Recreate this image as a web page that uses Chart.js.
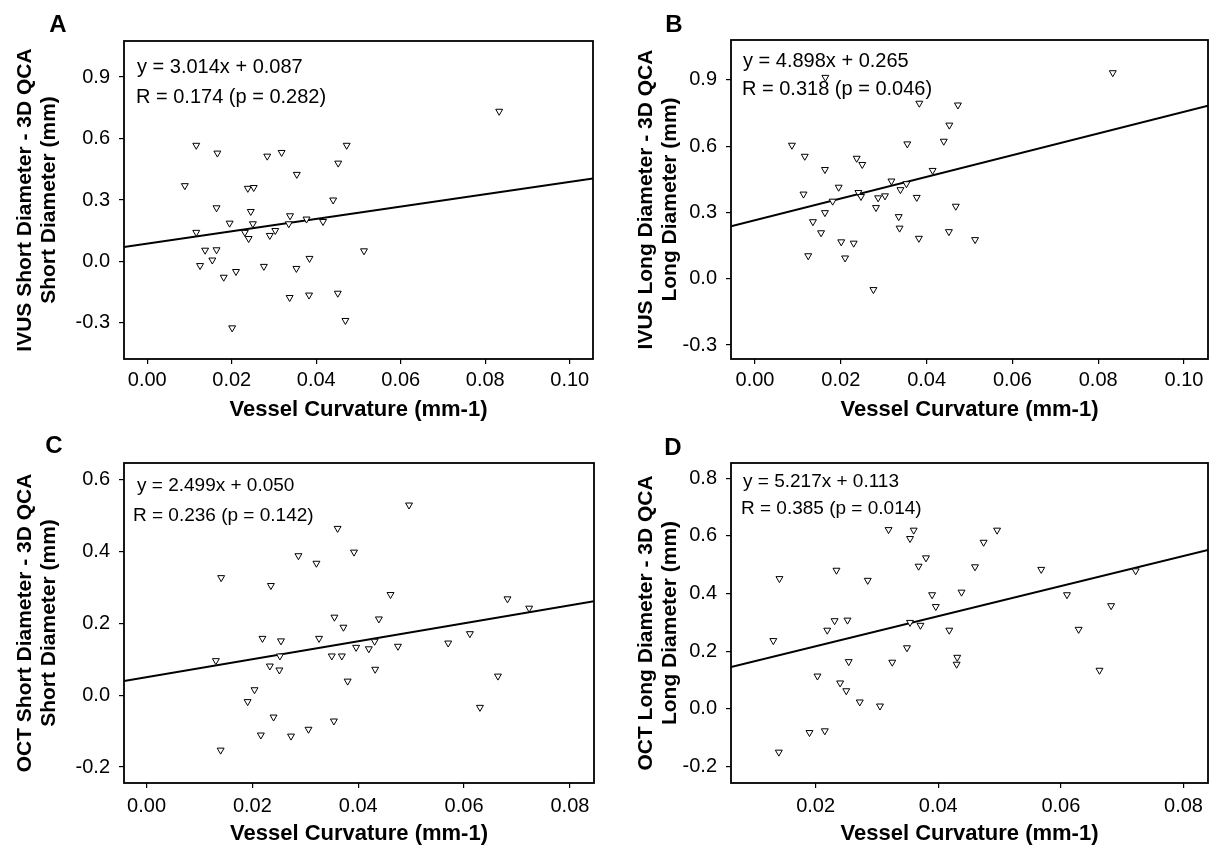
<!DOCTYPE html>
<html>
<head>
<meta charset="utf-8">
<script src="https://cdn.jsdelivr.net/npm/chart.js@4.4.1/dist/chart.umd.min.js"></script>
<style>
  html, body { margin: 0; padding: 0; background: #fff; }
  #wrap { position: relative; width: 1213px; height: 849px; overflow: hidden; }
  canvas { position: absolute; }
</style>
</head>
<body>
<div id="wrap">
  <canvas id="chartA" width="606" height="424" style="left:0px;top:0px"></canvas>
  <canvas id="chartB" width="607" height="424" style="left:606px;top:0px"></canvas>
  <canvas id="chartC" width="606" height="425" style="left:0px;top:424px"></canvas>
  <canvas id="chartD" width="607" height="425" style="left:606px;top:424px"></canvas>
</div>
<script>
// Panel A: IVUS short diameter difference vs vessel curvature
const xA = [0.0089, 0.0116, 0.0116, 0.0125, 0.0137, 0.0154, 0.0164, 0.0166, 0.0164, 0.0181, 0.0195, 0.0201, 0.0210, 0.0231, 0.0238, 0.0252, 0.0245, 0.0240, 0.0250, 0.0276, 0.0284, 0.0290, 0.0303, 0.0318, 0.0335, 0.0338, 0.0337, 0.0354, 0.0353, 0.0377, 0.0384, 0.0383, 0.0416, 0.0440, 0.0452, 0.0451, 0.0472, 0.0469, 0.0513, 0.0833];
const yA = [0.370, 0.567, 0.142, -0.020, 0.055, 0.007, 0.057, 0.529, 0.262, -0.077, 0.187, -0.324, -0.049, 0.142, 0.357, 0.361, 0.244, 0.112, 0.184, -0.024, 0.514, 0.127, 0.151, 0.532, 0.184, 0.223, -0.176, 0.425, -0.034, 0.207, 0.015, -0.164, 0.195, 0.300, 0.480, -0.155, 0.567, -0.288, 0.052, 0.733];
const fitA = { slope: 3.014, intercept: 0.087 };

// Panel B: IVUS long diameter difference
const xB = [0.0086, 0.0116, 0.0113, 0.0124, 0.0135, 0.0154, 0.0164, 0.0163, 0.0163, 0.0181, 0.0195, 0.0201, 0.0210, 0.0230, 0.0237, 0.0241, 0.0247, 0.0250, 0.0276, 0.0282, 0.0287, 0.0303, 0.0318, 0.0335, 0.0337, 0.0339, 0.0353, 0.0355, 0.0377, 0.0383, 0.0382, 0.0414, 0.0440, 0.0453, 0.0452, 0.0468, 0.0473, 0.0513, 0.0834];
const yB = [0.604, 0.554, 0.383, 0.104, 0.258, 0.208, 0.911, 0.494, 0.299, 0.351, 0.414, 0.167, 0.094, 0.161, 0.545, 0.390, 0.372, 0.517, -0.049, 0.322, 0.366, 0.375, 0.442, 0.281, 0.229, 0.403, 0.430, 0.610, 0.368, 0.794, 0.183, 0.490, 0.622, 0.695, 0.213, 0.328, 0.786, 0.177, 0.932];
const fitB = { slope: 4.898, intercept: 0.265 };

// Panel C: OCT short diameter difference
const xC = [0.0131, 0.0141, 0.0140, 0.0191, 0.0204, 0.0219, 0.0216, 0.0233, 0.0235, 0.0240, 0.0251, 0.0252, 0.0254, 0.0273, 0.0287, 0.0306, 0.0321, 0.0326, 0.0350, 0.0355, 0.0354, 0.0361, 0.0369, 0.0372, 0.0380, 0.0392, 0.0396, 0.0420, 0.0431, 0.0432, 0.0439, 0.0461, 0.0475, 0.0496, 0.0570, 0.0611, 0.0630, 0.0664, 0.0682, 0.0723];
const yC = [0.096, 0.327, -0.153, -0.018, 0.015, 0.158, -0.111, 0.081, 0.305, -0.061, 0.070, 0.109, 0.151, -0.114, 0.388, -0.095, 0.367, 0.158, 0.109, 0.217, -0.072, 0.464, 0.109, 0.189, 0.039, 0.398, 0.133, 0.129, 0.150, 0.072, 0.212, 0.280, 0.136, 0.529, 0.145, 0.171, -0.034, 0.053, 0.268, 0.242];
const fitC = { slope: 2.499, intercept: 0.050 };

// Panel D: OCT long diameter difference
const xD = [0.0131, 0.0141, 0.0140, 0.0190, 0.0203, 0.0215, 0.0219, 0.0231, 0.0234, 0.0240, 0.0250, 0.0252, 0.0254, 0.0272, 0.0285, 0.0305, 0.0319, 0.0325, 0.0349, 0.0354, 0.0354, 0.0360, 0.0368, 0.0371, 0.0380, 0.0390, 0.0396, 0.0418, 0.0431, 0.0430, 0.0438, 0.0460, 0.0474, 0.0496, 0.0568, 0.0610, 0.0629, 0.0663, 0.0682, 0.0722];
const yD = [0.237, 0.452, -0.150, -0.082, 0.114, -0.076, 0.273, 0.306, 0.481, 0.090, 0.063, 0.308, 0.164, 0.024, 0.446, 0.010, 0.622, 0.162, 0.212, 0.300, 0.591, 0.620, 0.495, 0.290, 0.524, 0.396, 0.355, 0.273, 0.179, 0.155, 0.405, 0.493, 0.578, 0.620, 0.484, 0.396, 0.276, 0.134, 0.358, 0.479];
const fitD = { slope: 5.217, intercept: 0.113 };

// tick values
const xTicksAB = [0, 0.02, 0.04, 0.06, 0.08, 0.10];
const yTicksAB = [-0.3, 0, 0.3, 0.6, 0.9];
const xTicksC = [0, 0.02, 0.04, 0.06, 0.08];
const yTicksC = [-0.2, 0, 0.2, 0.4, 0.6];
const xTicksD = [0.02, 0.04, 0.06, 0.08];
const yTicksD = [-0.2, 0, 0.2, 0.4, 0.6, 0.8];

const xTitle = 'Vessel Curvature (mm-1)';
const FONT = '"Liberation Sans", Arial, sans-serif';

// draws the frame, panel letter and regression text
const panelDeco = {
    id: 'panelDeco',
    afterDraw(chart, args, opts) {
        const { ctx, chartArea: a } = chart;
        ctx.save();
        ctx.strokeStyle = '#000';
        ctx.lineWidth = 1.8;
        ctx.strokeRect(a.left, a.top, a.right - a.left, a.bottom - a.top);
        ctx.fillStyle = '#000';
        ctx.textBaseline = 'middle';
        ctx.textAlign = 'center';
        ctx.font = 'bold 24px ' + FONT;
        ctx.fillText(opts.letter, opts.letterX, opts.letterY);
        ctx.textAlign = 'left';
        ctx.font = opts.noteSize + 'px ' + FONT;
        opts.notes.forEach(n => ctx.fillText(n.text, a.left + n.dx, a.top + n.dy));
        ctx.restore();
    }
};

function makePanel(id, p) {
    const canvas = document.getElementById(id);
    const H = canvas.height;
    const points = p.xs.map((x, i) => ({ x: x, y: p.ys[i] }));
    const fitLine = [p.xRange[0], p.xRange[1]].map(x => ({ x: x, y: p.fit.slope * x + p.fit.intercept }));

    new Chart(canvas, {
        type: 'scatter',
        data: {
            datasets: [
                {
                    data: points,
                    pointStyle: 'triangle',
                    rotation: 180,
                    pointRadius: 4,
                    pointBorderWidth: 1,
                    borderColor: '#000',
                    backgroundColor: '#fff',
                    order: 1
                },
                {
                    data: fitLine,
                    showLine: true,
                    borderColor: '#000',
                    borderWidth: 2,
                    pointRadius: 0,
                    order: 2
                }
            ]
        },
        options: {
            responsive: false,
            animation: false,
            layout: { padding: { left: 0, top: p.padTop, right: p.padRight, bottom: 0 } },
            plugins: {
                legend: { display: false },
                tooltip: { enabled: false },
                panelDeco: { letter: p.letter, letterX: p.letterX, letterY: p.letterY, noteSize: p.noteSize, notes: p.notes }
            },
            scales: {
                x: {
                    type: 'linear',
                    min: p.xRange[0],
                    max: p.xRange[1],
                    afterBuildTicks: s => { s.ticks = p.xTicks.map(v => ({ value: v })); },
                    afterFit: s => { s.height = p.xAxisH; },
                    border: { display: false },
                    grid: { drawOnChartArea: false, drawTicks: true, tickLength: 5, color: '#000', lineWidth: 1.2 },
                    ticks: {
                        color: '#000', autoSkip: false, maxRotation: 0, padding: p.xTickPad,
                        font: { family: FONT, size: 20 },
                        callback: v => Number(v).toFixed(2)
                    },
                    title: {
                        display: true, text: xTitle, color: '#000',
                        font: { family: FONT, size: 22, weight: 'bold' },
                        padding: { top: 0, bottom: p.xTitlePad }
                    }
                },
                y: {
                    type: 'linear',
                    min: p.yRange[0],
                    max: p.yRange[1],
                    afterBuildTicks: s => { s.ticks = p.yTicks.map(v => ({ value: v })); },
                    afterFit: s => { s.width = p.yAxisW; },
                    border: { display: false },
                    grid: { drawOnChartArea: false, drawTicks: true, tickLength: 5, color: '#000', lineWidth: 1.2 },
                    ticks: {
                        color: '#000', autoSkip: false, padding: 9,
                        font: { family: FONT, size: 20 },
                        callback: v => Number(v).toFixed(1)
                    },
                    title: {
                        display: true, text: p.yTitle, color: '#000',
                        font: { family: FONT, size: 21, weight: 'bold', lineHeight: 1.15 },
                        padding: { top: p.yTitlePad, bottom: 0 }
                    }
                }
            }
        },
        plugins: [panelDeco]
    });
}

makePanel('chartA', {
    xs: xA, ys: yA, fit: fitA,
    xRange: [-0.0055, 0.1055], yRange: [-0.476, 1.076],
    xTicks: xTicksAB, yTicks: yTicksAB,
    yTitle: ['IVUS Short Diameter - 3D QCA', 'Short Diameter (mm)'],
    padTop: 41, padRight: 13, yAxisW: 124, xAxisH: 65, xTickPad: 4, xTitlePad: 1, yTitlePad: 13,
    letter: 'A', letterX: 58, letterY: 25,
    noteSize: 20, notes: [{ text: 'y = 3.014x + 0.087', dx: 13, dy: 26 }, { text: 'R = 0.174 (p = 0.282)', dx: 12, dy: 56 }]
});

makePanel('chartB', {
    xs: xB, ys: yB, fit: fitB,
    xRange: [-0.0056, 0.1056], yRange: [-0.363, 1.08],
    xTicks: xTicksAB, yTicks: yTicksAB,
    yTitle: ['IVUS Long Diameter - 3D QCA', 'Long Diameter (mm)'],
    padTop: 40, padRight: 5, yAxisW: 125, xAxisH: 65, xTickPad: 4, xTitlePad: 1, yTitlePad: 28,
    letter: 'B', letterX: 68, letterY: 25,
    noteSize: 20, notes: [{ text: 'y = 4.898x + 0.265', dx: 12, dy: 21 }, { text: 'R = 0.318 (p = 0.046)', dx: 11, dy: 49 }]
});

makePanel('chartC', {
    xs: xC, ys: yC, fit: fitC,
    xRange: [-0.00426, 0.08455], yRange: [-0.2445, 0.646],
    xTicks: xTicksC, yTicks: yTicksC,
    yTitle: ['OCT Short Diameter - 3D QCA', 'Short Diameter (mm)'],
    padTop: 39, padRight: 12, yAxisW: 124, xAxisH: 66, xTickPad: 6, xTitlePad: 2, yTitlePad: 13,
    letter: 'C', letterX: 54, letterY: 22,
    noteSize: 19, notes: [{ text: 'y = 2.499x + 0.050', dx: 13, dy: 23 }, { text: 'R = 0.236 (p = 0.142)', dx: 9, dy: 53 }]
});

makePanel('chartD', {
    xs: xD, ys: yD, fit: fitD,
    xRange: [0.0062, 0.0840], yRange: [-0.257, 0.853],
    xTicks: xTicksD, yTicks: yTicksD,
    yTitle: ['OCT Long Diameter - 3D QCA', 'Long Diameter (mm)'],
    padTop: 39, padRight: 5, yAxisW: 125, xAxisH: 66, xTickPad: 6, xTitlePad: 2, yTitlePad: 28,
    letter: 'D', letterX: 67, letterY: 24,
    noteSize: 19, notes: [{ text: 'y = 5.217x + 0.113', dx: 12, dy: 19 }, { text: 'R = 0.385 (p = 0.014)', dx: 10, dy: 46 }]
});
</script>
</body>
</html>
